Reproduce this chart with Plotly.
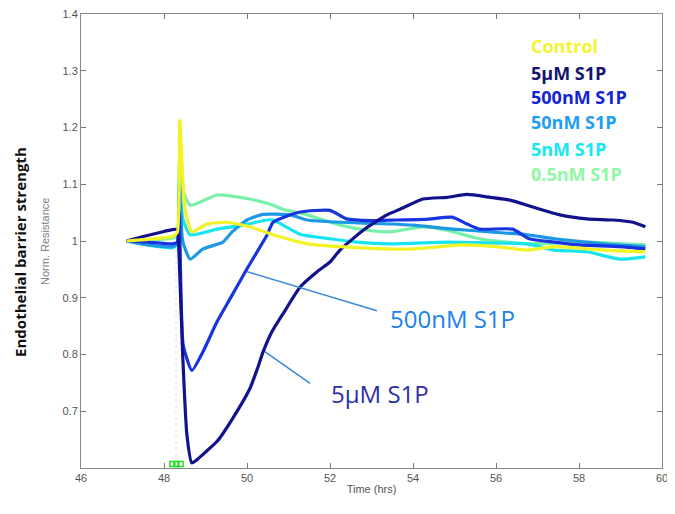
import plotly.graph_objects as go

# ---- data ----
series_names = ["0.5nM S1P", "5nM S1P", "50nM S1P", "500nM S1P", "5µM S1P", "Control"]
series_colors = ["#78f0a8", "#18e4f0", "#1c98e4", "#1834e0", "#12128c", "#f2f224"]

t_05nM = [47.1, 47.6, 48.2, 48.32, 48.37, 48.45, 48.63, 49.28, 49.83, 50.07, 50.63, 50.87, 51.45, 52.24, 52.9, 53.45, 54.24, 54.82, 55.6, 56.75, 58.19, 59.6]
r_05nM = [1.0, 1.002, 1.005, 1.01, 1.14, 1.09, 1.063, 1.081, 1.077, 1.074, 1.063, 1.056, 1.046, 1.028, 1.019, 1.016, 1.025, 1.019, 1.004, 0.995, 0.998, 0.993]

t_5nM = [47.1, 47.6, 48.2, 48.32, 48.37, 48.45, 48.63, 49.28, 49.9, 50.48, 50.63, 51.28, 52.0, 52.65, 53.45, 54.82, 55.6, 56.75, 57.4, 58.19, 58.99, 59.6]
r_5nM = [1.0, 0.993, 0.988, 0.995, 1.11, 1.04, 1.011, 1.021, 1.028, 1.037, 1.037, 1.012, 1.004, 0.998, 0.995, 0.998, 0.997, 0.995, 0.984, 0.981, 0.968, 0.972]

t_50nM = [47.1, 47.6, 48.2, 48.32, 48.37, 48.45, 48.63, 48.94, 49.42, 49.64, 50.0, 50.39, 51.04, 51.45, 52.24, 53.45, 54.0, 54.96, 55.86, 56.75, 57.4, 58.58, 59.6]
r_50nM = [1.0, 0.993, 0.99, 0.995, 1.1, 1.0, 0.968, 0.986, 0.998, 1.016, 1.037, 1.047, 1.046, 1.037, 1.033, 1.03, 1.028, 1.021, 1.016, 1.011, 1.004, 0.995, 0.99]

t_500nM = [47.1, 47.6, 48.2, 48.32, 48.37, 48.46, 48.67, 48.94, 49.28, 49.59, 50.0, 50.48, 50.63, 51.28, 52.0, 52.4, 53.0, 53.6, 54.3, 54.94, 55.3, 55.6, 56.4, 56.8, 57.4, 58.0, 58.99, 59.6]
r_500nM = [1.0, 0.998, 0.995, 0.998, 1.05, 0.818, 0.772, 0.805, 0.858, 0.898, 0.951, 1.01, 1.033, 1.051, 1.054, 1.039, 1.036, 1.037, 1.038, 1.042, 1.03, 1.021, 1.021, 1.004, 0.998, 0.993, 0.99, 0.986]

t_5uM = [47.1, 47.5, 47.9, 48.2, 48.32, 48.36, 48.45, 48.55, 48.67, 48.8, 49.0, 49.28, 49.66, 50.07, 50.25, 50.39, 50.6, 50.87, 51.28, 51.69, 52.0, 52.24, 52.8, 53.37, 53.69, 54.24, 54.82, 55.3, 55.86, 56.34, 56.75, 57.06, 57.54, 58.19, 58.82, 59.3, 59.6]
r_5uM = [1.0, 1.008, 1.015, 1.02, 1.02, 0.98, 0.80, 0.66, 0.609, 0.615, 0.628, 0.647, 0.688, 0.74, 0.775, 0.805, 0.84, 0.872, 0.919, 0.946, 0.963, 0.984, 1.019, 1.046, 1.056, 1.074, 1.077, 1.082, 1.077, 1.072, 1.063, 1.056, 1.046, 1.039, 1.037, 1.033, 1.025]

t_ctrl = [47.1, 47.6, 48.2, 48.32, 48.38, 48.5, 48.67, 49.04, 49.52, 50.07, 50.63, 51.45, 52.24, 53.37, 54.0, 55.2, 56.0, 56.75, 57.4, 58.58, 59.6]
r_ctrl = [1.0, 1.003, 1.008, 1.015, 1.212, 1.06, 1.016, 1.03, 1.033, 1.025, 1.011, 0.995, 0.99, 0.986, 0.986, 0.993, 0.99, 0.984, 0.99, 0.984, 0.981]

event_times = [48.2, 48.3, 48.4]
event_level = [0.607, 0.607, 0.607]

x_ticks = [46, 48, 50, 52, 54, 56, 58, 60]
y_ticks = [0.7, 0.8, 0.9, 1.0, 1.1, 1.2, 1.3, 1.4]
y_tick_text = ["0.7", "0.8", "0.9", "1", "1.1", "1.2", "1.3", "1.4"]

legend_labels = ["Control", "5µM S1P", "500nM S1P", "50nM S1P", "5nM S1P", "0.5nM S1P"]
legend_colors = ["#f4f430", "#141470", "#1424d4", "#1e9ef0", "#14e8f4", "#90f8a4"]

series_t = [t_05nM, t_5nM, t_50nM, t_500nM, t_5uM, t_ctrl]
series_r = [r_05nM, r_5nM, r_50nM, r_500nM, r_5uM, r_ctrl]

fig = go.Figure()

# faint dotted marker line at stimulus time
fig.add_trace(go.Scatter(x=[48.29, 48.29], y=[0.6, 1.0], mode="lines",
                         line=dict(color="#dddddd", width=1, dash="dot"),
                         showlegend=False, hoverinfo="skip"))

for name, col, t, r in zip(series_names, series_colors, series_t, series_r):
    fig.add_trace(go.Scatter(x=t, y=r, mode="lines", name=name,
                             line=dict(color=col, width=3.2, shape="spline", smoothing=0.5),
                             showlegend=False))

fig.add_trace(go.Scatter(x=event_times, y=event_level, mode="markers",
                         marker=dict(symbol="square-open", size=5, color="#22dd22",
                                     line=dict(width=1.5, color="#22dd22")),
                         showlegend=False, cliponaxis=False))

# leader lines
fig.add_trace(go.Scatter(x=[50.0, 53.13], y=[0.946, 0.877], mode="lines",
                         line=dict(color="#3a88d8", width=1.5), showlegend=False))
fig.add_trace(go.Scatter(x=[50.43, 51.52], y=[0.805, 0.749], mode="lines",
                         line=dict(color="#3a88d8", width=1.5), showlegend=False))

annotations = []
legend_y = [1.344, 1.296, 1.253, 1.209, 1.163, 1.118]
for lab, col, yy in zip(legend_labels, legend_colors, legend_y):
    annotations.append(dict(x=56.8, y=yy, xref="x", yref="y", text=f"<b>{lab}</b>",
                            showarrow=False, xanchor="left", yanchor="middle",
                            font=dict(family="Open Sans", size=18, color=col)))

annotations.append(dict(x=54.96, y=0.863, xref="x", yref="y", text="500nM S1P",
                        showarrow=False, xanchor="center", yanchor="middle",
                        font=dict(family="Open Sans", size=24, color="#2080f0")))
annotations.append(dict(x=53.2, y=0.732, xref="x", yref="y", text="5µM S1P",
                        showarrow=False, xanchor="center", yanchor="middle",
                        font=dict(family="Open Sans", size=24, color="#2b30a8")))
annotations.append(dict(x=-0.062, y=0.5, xref="paper", yref="paper", text="Norm. Resistance",
                        showarrow=False, textangle=-90, xanchor="center", yanchor="middle",
                        font=dict(family="Liberation Sans", size=11, color="#808080")))
annotations.append(dict(x=-0.105, y=0.476, xref="paper", yref="paper",
                        text="<b>Endothelial barrier strength</b>",
                        showarrow=False, textangle=-90, xanchor="center", yanchor="middle",
                        font=dict(family="Open Sans", size=15, color="#111111")))

# the page adds an 8px body margin, so the figure is sized to fill the rest of the window
fig.update_layout(
    width=667, height=506,
    margin=dict(l=73, r=13, t=6, b=46, autoexpand=False),
    paper_bgcolor="white", plot_bgcolor="white",
    annotations=annotations,
    font=dict(family="Liberation Sans", size=11, color="#555555"),
)
fig.update_xaxes(range=[46, 60], tickvals=x_ticks, ticks="inside", ticklen=5,
                 tickcolor="#777777", showline=True, linecolor="#888888", linewidth=1,
                 mirror="ticks", showgrid=False, zeroline=False, automargin=False,
                 ticklabeloverflow="allow",
                 title=dict(text="Time (hrs)", font=dict(size=11, color="#555555"), standoff=2),
                 tickfont=dict(size=11, color="#555555"))
fig.update_yaxes(range=[0.6, 1.4], tickvals=y_ticks, ticktext=y_tick_text, ticks="inside",
                 ticklen=5, tickcolor="#777777", showline=True, linecolor="#888888",
                 linewidth=1, mirror="ticks", showgrid=False, zeroline=False, automargin=False,
                 ticklabeloverflow="allow",
                 tickfont=dict(size=11, color="#555555"))

fig.write_html("out.html")
